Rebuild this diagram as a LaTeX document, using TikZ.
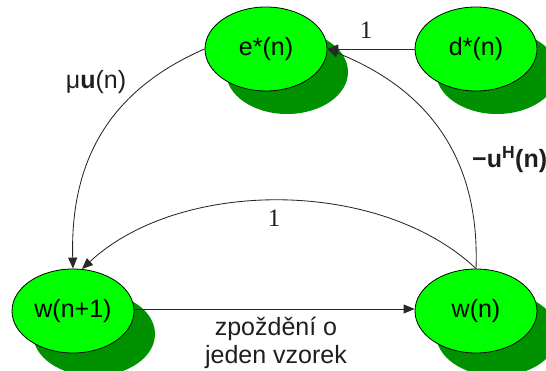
\documentclass[tikz,border=0pt]{standalone}
\usepackage{fontspec}
\setmainfont{Liberation Sans}
\newfontfamily\serifnum{Liberation Serif}
\usetikzlibrary{shapes.geometric,arrows.meta,shadows}
\definecolor{nodegreen}{RGB}{0,255,0}
\definecolor{shadegreen}{RGB}{0,145,0}
\definecolor{linegray}{RGB}{40,40,40}
\definecolor{textgray}{RGB}{30,30,30}
\tikzset{
  statebox/.style={ellipse, draw=black, line width=0.8pt, fill=nodegreen,
    minimum width=122pt, minimum height=84pt, inner sep=0pt,
    font=\fontsize{25}{28}\selectfont,
    general shadow={shadow xshift=21pt, shadow yshift=-23pt, fill=shadegreen, draw=none}},
  conn/.style={draw=linegray, line width=0.85pt, -{Triangle[length=11pt,width=9pt]}},
  lbl/.style={font=\fontsize{25}{28}\selectfont, inner sep=0pt, text=textgray},
  numlbl/.style={font=\serifnum\fontsize{25}{28}\selectfont, inner sep=0pt, text=textgray}
}
\begin{document}
\begin{tikzpicture}[x=1pt,y=-1pt]
\useasboundingbox (0,0) rectangle (546,371);
\node[statebox] (e) at (266,49) {e*(n)};
\node[statebox] (d) at (476,49) {d*(n)};
\node[statebox] (wn1) at (73,311) {w(n+1)};
\node[statebox] (wn) at (476,311) {w(n)};
\draw[conn] (d) -- (e);
\draw[conn] (wn1.east |- 0,309) -- (wn.west |- 0,309);
\draw[conn] (e.west) .. controls (110,90) and (70,160) .. (wn1.north);
\draw[conn] (wn.north) .. controls (380,178) and (180,178) .. (wn1.78);
\draw[conn] (wn.north) .. controls (480,160) and (430,90) .. (e.east);
\node[numlbl] (l1) at (366,30) {1};
\node[numlbl] (l2) at (274,218) {1};
\node[lbl] (lmu) at (96,82) {μ\textbf{u}(n)};
\node[lbl, anchor=west] (luh) at (472,160) {\textbf{−u\textsuperscript{H}(n)}};
\node[lbl, align=center] (ldelay) at (276,343) {zpoždění o\\jeden vzorek};
\end{tikzpicture}
\end{document}
